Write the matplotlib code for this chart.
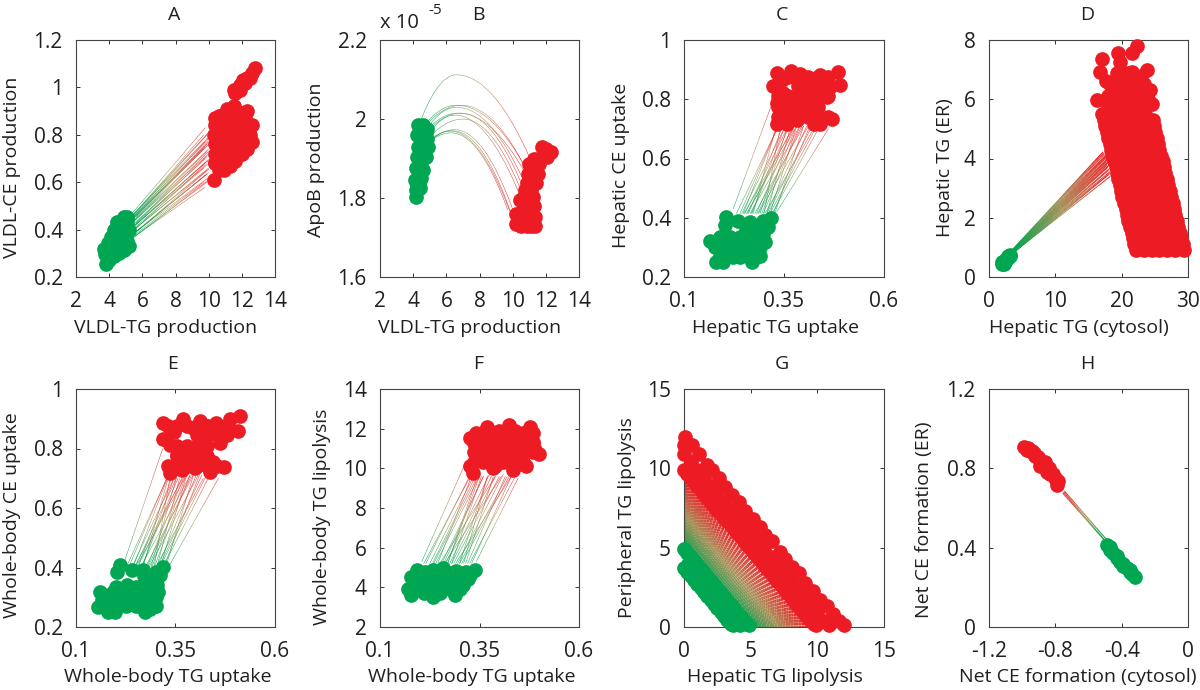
import numpy as np
import matplotlib
matplotlib.use('Agg')
import matplotlib.pyplot as plt
from matplotlib.collections import LineCollection
from matplotlib.colors import to_rgb

W, H = 1200, 690
GREEN = '#00A651'
RED = '#ED1C24'
MID = '#A8925A'
INK = '#231F20'
plt.rcParams['font.family'] = ['Open Sans', 'DejaVu Sans']

# === A: VLDL-TG vs VLDL-CE ===
a_green_x = [3.8, 3.7, 4.0, 4.3, 4.6, 4.9, 5.2, 3.9, 4.2, 4.5, 4.8, 5.1, 4.1, 4.4, 4.7, 5.0, 4.3, 4.6, 4.9, 5.2, 4.5, 4.8, 5.05, 4.9, 5.1, 3.75,
             4.0, 4.3, 4.6, 4.9, 3.9, 4.5, 4.8, 4.7, 5.1, 4.3]
a_green_y = [.255, .32, .30, .29, .30, .315, .33, .345, .34, .335, .345, .35, .37, .38, .375, .37, .40, .41, .405, .40, .43, .435, .44, .455, .455, .295,
             .27, .31, .33, .36, .32, .36, .40, .43, .42, .37]
a_red_x = [12.8, 12.3, 12.5, 11.9, 11.6, 11.5, 12.1, 10.3, 10.4, 10.6, 10.9, 11.3, 11.6, 12.0, 12.3, 12.6, 12.5, 12.6, 12.3, 11.9, 11.5, 11.1, 10.7, 10.4, 10.3, 10.6, 11.0, 11.4, 11.8, 12.2, 10.5, 10.9, 11.3, 11.7, 12.2, 10.95, 11.25, 10.8,
           10.4, 11.0, 11.4, 10.4, 11.0, 11.6, 10.4, 11.0, 11.6, 12.2, 10.4, 11.0, 11.6, 12.2, 10.4, 11.0, 11.6, 12.2, 10.6, 11.2, 11.8, 12.2, 11.9, 12.2, 12.6]
a_red_y = [1.08, 1.04, 1.04, 1.01, .975, .99, 1.03, .61, .68, .65, .65, .67, .69, .72, .74, .77, .80, .84, .90, .89, .92, .91, .88, .87, .80, .74, .72, .71, .75, .80, .78, .80, .78, .82, .85, .85, .85, .70,
           .68, .68, .70, .72, .72, .74, .76, .76, .76, .78, .80, .80, .80, .82, .84, .84, .84, .86, .88, .88, .88, .88, .99, 1.02, 1.06]
a_link_x0 = [5.4, 5.5, 5.5, 5.4, 5.5, 5.6, 5.4, 5.5, 5.5, 5.4, 5.5, 5.6, 5.5, 5.4, 5.5, 5.5, 5.4, 5.5, 5.6, 5.5, 5.4, 5.5, 5.5, 5.4, 5.5, 5.4, 5.6, 5.5, 5.4, 5.5, 5.6, 5.5, 5.4, 5.5, 5.5, 5.4]
a_link_y0 = [.365, .37, .375, .38, .385, .39, .395, .40, .405, .41, .415, .42, .425, .43, .435, .44, .445, .45, .452, .456, .46, .465, .468, .47, .368, .378, .388, .398, .408, .418, .428, .438, .448, .458, .462, .442]
a_link_x1 = [9.8, 9.9, 9.7, 10, 9.8, 10, 9.9, 10, 9.7, 10, 9.9, 10.1, 9.8, 10, 9.9, 10, 9.7, 10, 10, 9.8, 10, 9.7, 10, 9.8, 10, 9.9, 10, 9.8, 10, 9.9, 10, 9.8, 9.9, 10, 9.9, 10]
a_link_y1 = [.58, .60, .60, .62, .63, .64, .65, .66, .66, .68, .69, .70, .70, .72, .73, .74, .74, .76, .77, .77, .79, .80, .81, .83, .61, .635, .655, .675, .695, .71, .73, .75, .76, .785, .80, .775]

# === B: VLDL-TG vs ApoB (arcs have a start, a peak and an end) ===
b_green_x = [4.3, 4.6, 4.85, 4.25, 4.6, 4.85, 4.3, 4.6, 4.9, 4.25, 4.6, 4.75, 4.2, 4.5, 4.6, 4.1, 4.4, 4.5, 4.2, 4.4, 4.15,
             4.45, 4.45, 4.45, 4.7, 4.4, 4.35, 4.25, 4.6, 4.75]
b_green_y = [1.985, 1.985, 1.975, 1.96, 1.96, 1.95, 1.93, 1.93, 1.93, 1.905, 1.90, 1.905, 1.875, 1.875, 1.87, 1.845, 1.845, 1.85, 1.82, 1.825, 1.803,
             1.97, 1.94, 1.915, 1.94, 1.89, 1.86, 1.835, 1.915, 1.965]
b_red_x = [12.0, 12.3, 11.75, 11.0, 11.6, 11.5, 10.9, 11.4, 10.85, 11.25, 10.45, 10.85, 10.2, 10.2, 10.85, 11.35, 11.35, 10.75, 11.3, 11.0, 10.6, 10.6,
           11.25, 11.15, 11.1, 10.6, 10.9, 10.45, 10.5, 11.1, 11.0, 12.1, 11.5, 11.35, 10.75, 11.05, 11.3, 11.9]
b_red_y = [1.925, 1.917, 1.93, 1.887, 1.887, 1.862, 1.862, 1.837, 1.837, 1.803, 1.794, 1.80, 1.76, 1.735, 1.73, 1.73, 1.752, 1.76, 1.78, 1.78, 1.735, 1.77,
           1.875, 1.85, 1.82, 1.80, 1.76, 1.75, 1.73, 1.73, 1.755, 1.905, 1.90, 1.875, 1.82, 1.80, 1.90, 1.91]
b_link_x0 = [4.4, 4.9, 4.9, 4.9, 4.9, 4.9, 4.9, 4.9, 4.9, 4.9, 4.9, 4.9]
b_link_y0 = [1.99, 1.995, 1.99, 1.98, 1.975, 1.97, 1.96, 1.945, 1.94, 1.94, 1.95, 1.935]
b_link_xm = [6.6, 6.6, 6.9, 6.6, 6.7, 6.9, 6.5, 6.4, 6.5, 6.3, 7.0, 6.2]
b_link_ym = [2.112, 2.035, 2.035, 2.03, 2.015, 2.015, 2.01, 1.97, 1.973, 1.965, 2.0, 1.97]
b_link_x1 = [11.1, 10.8, 10.9, 10.7, 10.8, 10.7, 10.5, 10.0, 10.1, 9.7, 10.5, 10.3]
b_link_y1 = [1.895, 1.875, 1.865, 1.84, 1.86, 1.82, 1.80, 1.75, 1.76, 1.77, 1.82, 1.71]

# === C: hepatic TG vs CE uptake ===
c_green_x = [.206, .202, .235, .265, .298, .317, .31, .164, .177, .181, .198, .223, .24, .271, .281, .302, .298, .223, .256, .281, .19, .256, .281, .248, .215, .273, .198,
             .19, .215, .24, .265, .29, .19, .215, .24, .265, .29, .19, .215, .24, .265, .29, .265, .29]
c_green_y = [.403, .375, .39, .386, .39, .40, .369, .322, .30, .25, .25, .268, .268, .25, .268, .318, .346, .324, .324, .324, .296, .358, .358, .29, .29, .296, .33,
             .27, .27, .27, .27, .27, .30, .30, .30, .30, .30, .335, .335, .335, .335, .335, .37, .37]
c_red_x = [.332, .367, .323, .486, .49, .44, .415, .332, .332, .357, .382, .47, .44, .424, .457, .424, .39, .357, .398, .431, .465, .39, .345, .348, .39, .445,
           .335, .36, .385, .41, .435, .46, .335, .36, .385, .41, .435, .335, .36, .385, .41, .435, .46, .335, .385, .41, .435, .46, .36, .385, .41, .435, .46]
c_red_y = [.887, .896, .845, .893, .848, .882, .87, .786, .718, .718, .73, .735, .718, .718, .808, .797, .808, .786, .763, .752, .842, .853, .865, .82, .885, .84,
           .74, .74, .74, .74, .74, .74, .775, .775, .775, .775, .775, .81, .81, .81, .81, .81, .81, .845, .845, .845, .845, .845, .875, .875, .875, .875, .875]
c_link_x0 = [.223, .24, .248, .261, .273, .281, .29, .298, .307, .315, .323, .332, .265, .256, .315, .327, .277, .302, .286, .252, .231, .307, .244, .258, .27, .284, .294, .31, .32, .268, .3, .25]
c_link_y0 = [.43, .414, .414, .414, .414, .414, .414, .414, .414, .414, .414, .42, .414, .414, .414, .414, .414, .414, .414, .414, .414, .414, .414, .414, .414, .414, .414, .414, .414, .414, .414, .414]
c_link_x1 = [.32, .332, .332, .344, .332, .373, .357, .39, .407, .382, .415, .461, .39, .382, .432, .399, .399, .424, .411, .357, .336, .365, .35, .37, .35, .395, .378, .42, .44, .36, .34, .372]
c_link_y1 = [.785, .70, .70, .70, .72, .70, .70, .71, .71, .71, .71, .70, .71, .71, .71, .71, .71, .70, .71, .70, .71, .70, .70, .70, .70, .71, .70, .71, .71, .70, .70, .70]

# === D: hepatic TG cytosol vs ER ===
d_green_x = [1.9, 2.2, 2.4, 2.2, 2.6, 2.9, 3.1, 3.2, 2.8, 2.0]
d_green_y = [.45, .45, .5, .55, .6, .65, .7, .75, .72, .5]
d_red_x = [22.1, 23.3, 24.5, 25.7, 26.9, 28.1, 29.4,
           21.7, 23.0, 24.4, 25.8, 27.2, 29.0,
           21.2, 22.6, 24.0, 25.4, 26.9, 28.5,
           20.8, 22.2, 23.6, 25.0, 26.5, 28.1,
           20.4, 21.8, 23.2, 24.6, 26.1, 27.7,
           19.9, 21.3, 22.7, 24.1, 25.7, 27.3,
           19.5, 20.9, 22.3, 23.7, 25.3, 26.8,
           19.1, 20.5, 21.9, 23.3, 24.9, 26.4,
           18.6, 20.0, 21.4, 22.8, 24.4, 26.0,
           18.2, 19.6, 21.0, 22.4, 24.0, 25.5,
           17.8, 19.2, 20.6, 22.0, 23.6, 25.1,
           17.3, 18.7, 20.1, 21.5, 23.1, 24.7,
           21.9, 21.5, 21.0, 20.6, 20.1, 19.7, 19.3, 18.8, 18.4, 18.0, 17.5, 17.0,
           29.2, 28.8, 28.3, 27.9, 27.5, 27.0, 26.6, 26.2, 25.7, 25.3, 24.9,
           17.0, 16.8, 16.3, 18.3, 19.5, 19.8, 22.3, 21.5, 23.8, 21.5, 24.3, 24.5, 23.0, 22.0, 20.5, 19.0, 18.0,
           # second offset lattice, closes the holes in the band
           22.6, 24.0, 25.2, 26.4, 27.8, 22.3, 23.7, 25.0, 26.2, 27.6, 21.9, 23.3, 24.7, 26.0, 27.3, 21.5, 22.9, 24.3, 25.7, 26.9,
           21.0, 22.4, 23.8, 25.2, 26.5, 20.6, 22.0, 23.4, 24.8, 26.1, 20.2, 21.6, 23.0, 24.4, 25.7, 19.7, 21.1, 22.5, 23.9, 25.3,
           19.3, 20.7, 22.1, 23.5, 24.8, 18.9, 20.3, 21.7, 23.1, 24.4,
           18.5, 19.9, 21.3, 22.7, 24.0, 18.0, 19.4, 20.8, 22.2, 23.5,
           18.5, 19.5, 20.5, 21.5, 22.5, 23.5, 18.0, 19.0, 20.0, 21.0, 22.0, 23.0, 24.0, 18.8, 20.2, 21.2, 22.6, 23.4, 17.6, 19.3, 21.0, 22.9]
d_red_y = [.9, .9, .9, .9, .9, .9, .9,
           1.3, 1.3, 1.3, 1.3, 1.3, 1.3,
           1.7, 1.7, 1.7, 1.7, 1.7, 1.7,
           2.1, 2.1, 2.1, 2.1, 2.1, 2.1,
           2.5, 2.5, 2.5, 2.5, 2.5, 2.5,
           2.9, 2.9, 2.9, 2.9, 2.9, 2.9,
           3.3, 3.3, 3.3, 3.3, 3.3, 3.3,
           3.7, 3.7, 3.7, 3.7, 3.7, 3.7,
           4.1, 4.1, 4.1, 4.1, 4.1, 4.1,
           4.5, 4.5, 4.5, 4.5, 4.5, 4.5,
           4.9, 4.9, 4.9, 4.9, 4.9, 4.9,
           5.3, 5.3, 5.3, 5.3, 5.3, 5.3,
           1.1, 1.5, 1.9, 2.3, 2.7, 3.1, 3.5, 3.9, 4.3, 4.7, 5.1, 5.5,
           1.1, 1.5, 1.9, 2.3, 2.7, 3.1, 3.5, 3.9, 4.3, 4.7, 5.1,
           7.35, 6.93, 5.97, 6.53, 7.57, 7.26, 7.8, 7.55, 7.0, 6.93, 6.3, 5.85, 6.3, 6.2, 6.4, 6.0, 5.7,
           1.1, 1.1, 1.1, 1.1, 1.1, 1.5, 1.5, 1.5, 1.5, 1.5, 1.9, 1.9, 1.9, 1.9, 1.9, 2.3, 2.3, 2.3, 2.3, 2.3,
           2.7, 2.7, 2.7, 2.7, 2.7, 3.1, 3.1, 3.1, 3.1, 3.1, 3.5, 3.5, 3.5, 3.5, 3.5, 3.9, 3.9, 3.9, 3.9, 3.9,
           4.3, 4.3, 4.3, 4.3, 4.3, 4.7, 4.7, 4.7, 4.7, 4.7,
           5.1, 5.1, 5.1, 5.1, 5.1, 5.5, 5.5, 5.5, 5.5, 5.5,
           5.7, 5.7, 5.7, 5.7, 5.7, 5.7, 6.1, 6.1, 6.1, 6.1, 6.1, 6.1, 6.0, 6.5, 6.5, 6.5, 6.5, 6.5, 6.6, 6.9, 6.9, 6.8]
d_link_x0 = [3.2, 3.3, 3.2, 3.4, 3.3, 3.2, 3.3, 3.4, 3.3, 3.2, 3.4, 3.3, 3.3, 3.2, 3.3, 3.2, 3.4, 3.3, 3.2, 3.3, 3.4, 3.3, 3.2, 3.3]
d_link_y0 = [.74, .75, .76, .77, .78, .79, .78, .80, .80, .81, .82, .82, .83, .84, .75, .77, .79, .80, .80, .81, .82, .83, .84, .85]
d_link_x1 = [18.3, 18.0, 18.2, 18.0, 17.9, 18.1, 17.8, 18.0, 17.7, 17.9, 17.6, 17.7, 17.4, 17.2, 18.2, 18.1, 18.0, 17.9, 17.8, 17.8, 17.6, 17.5, 17.3, 17.1]
d_link_y1 = [3.4, 3.45, 3.55, 3.6, 3.7, 3.78, 3.78, 3.9, 3.9, 4.0, 4.0, 4.1, 4.15, 4.22, 3.5, 3.65, 3.75, 3.85, 3.85, 3.95, 4.05, 4.1, 4.18, 4.2]

# === E: whole-body TG vs CE uptake ===
e_green_x = [.211, .202, .24, .269, .319, .311, .16, .156, .181, .198, .177, .219, .24, .273, .286, .307, .303, .227, .261, .286, .211, .252, .286, .194, .30, .165,
             .175, .2, .225, .25, .275, .30, .175, .2, .225, .25, .275, .30, .2, .225, .25, .275, .30, .27, .30]
e_green_y = [.408, .385, .391, .391, .402, .374, .318, .267, .25, .25, .30, .284, .279, .25, .262, .318, .34, .34, .335, .34, .307, .312, .30, .318, .385, .29,
             .27, .27, .27, .27, .27, .27, .30, .30, .30, .30, .30, .30, .335, .335, .335, .335, .335, .37, .37]
e_red_x = [.319, .37, .318, .512, .487, .508, .453, .428, .336, .366, .399, .437, .472, .445, .336, .378, .412, .462, .42, .487, .395, .345, .353, .412, .39, .45,
           .33, .355, .38, .405, .43, .455, .355, .38, .405, .43, .355, .38, .405, .43, .405, .43, .48, .33, .355, .38, .405, .43, .455, .48]
e_red_y = [.885, .90, .833, .908, .90, .86, .885, .874, .717, .728, .734, .722, .739, .756, .812, .79, .756, .818, .812, .863, .869, .857, .779, .891, .79, .85,
           .74, .74, .74, .74, .74, .74, .775, .775, .775, .775, .81, .81, .81, .81, .845, .845, .845, .875, .875, .875, .875, .875, .875, .875]
e_link_x0 = [.219, .232, .243, .255, .268, .278, .288, .296, .305, .312, .32, .336, .262, .25, .31, .325, .274, .3, .283, .248, .226, .303, .24, .254, .266, .28, .29, .308, .318, .264, .296, .246]
e_link_y0 = [.41, .40, .40, .40, .40, .40, .40, .40, .40, .40, .40, .41, .40, .40, .40, .40, .40, .40, .40, .40, .40, .40, .40, .40, .40, .40, .40, .40, .40, .40, .40, .40]
e_link_x1 = [.318, .328, .33, .34, .336, .37, .352, .386, .402, .378, .41, .458, .387, .377, .428, .395, .394, .42, .407, .352, .332, .36, .346, .366, .346, .39, .374, .416, .436, .356, .336, .368]
e_link_y1 = [.80, .70, .70, .70, .72, .70, .70, .71, .71, .71, .71, .70, .71, .71, .71, .71, .71, .70, .71, .70, .71, .70, .70, .70, .70, .71, .70, .71, .71, .70, .70, .70]

# === F: whole-body TG uptake vs lipolysis ===
f_green_x = [.192, .179, .171, .179, .234, .288, .338, .317, .259, .234, .213, .309, .265, .225, .19, .30, .285, .25, .21, .29, .325, .26, .205, .235,
             .2, .225, .25, .275, .3, .2, .225, .25, .275, .3, .32, .2, .225, .25, .275, .3]
f_green_y = [4.87, 4.53, 3.94, 3.6, 3.52, 3.6, 4.87, 4.78, 4.95, 4.85, 4.78, 4.1, 4.1, 4.1, 4.1, 4.5, 3.75, 3.7, 3.7, 4.8, 4.6, 4.5, 4.4, 4.5,
             3.9, 3.9, 3.9, 3.9, 3.9, 4.3, 4.3, 4.3, 4.3, 4.3, 4.4, 4.7, 4.7, 4.7, 4.7, 4.7]
f_red_x = [.326, .368, .424, .476, .485, .5, .468, .434, .384, .334, .326, .342, .37, .40, .44, .47, .34, .37, .40, .43, .46, .35, .38, .41, .445, .39, .345, .49, .45, .425,
           .335, .36, .385, .41, .435, .46, .335, .36, .385, .41, .435, .46, .485, .335, .36, .385, .41, .435, .46, .485, .36, .385, .41, .435, .46, .485]
f_red_y = [11.52, 12.1, 12.2, 12.06, 11.35, 10.7, 10.1, 9.9, 10, 9.75, 10.1, 11.8, 11.5, 11.9, 11.9, 11.6, 11.0, 11.1, 11.4, 11.3, 11.0, 10.4, 10.5, 10.8, 10.6, 10.1, 11.4, 10.9, 10.2, 10.3,
           10.3, 10.3, 10.3, 10.3, 10.3, 10.3, 10.8, 10.8, 10.8, 10.8, 10.8, 10.8, 10.8, 11.3, 11.3, 11.3, 11.3, 11.3, 11.3, 11.3, 11.8, 11.8, 11.8, 11.8, 11.8, 11.8]
f_link_x0 = [.205, .215, .225, .235, .245, .255, .265, .275, .285, .295, .305, .315, .325, .342, .25, .27, .29, .31, .232, .262, .28, .30, .21, .24, .26, .28, .3, .32, .33, .27]
f_link_y0 = [5.3, 5.2, 5.2, 5.2, 5.2, 5.2, 5.2, 5.2, 5.2, 5.2, 5.2, 5.2, 5.2, 5.3, 5.2, 5.2, 5.2, 5.2, 5.2, 5.2, 5.2, 5.2, 5.2, 5.2, 5.2, 5.2, 5.2, 5.2, 5.2, 5.2]
f_link_x1 = [.313, .325, .335, .345, .33, .36, .375, .38, .40, .41, .425, .385, .44, .447, .39, .35, .43, .37, .34, .405, .355, .42, .33, .35, .36, .39, .37, .415, .43, .345]
f_link_y1 = [10.2, 9.6, 9.6, 9.6, 9.6, 9.6, 9.7, 9.6, 9.6, 9.7, 9.6, 9.6, 9.6, 9.5, 9.6, 9.6, 9.6, 9.6, 9.6, 9.6, 9.6, 9.6, 9.7, 9.6, 9.6, 9.6, 9.6, 9.6, 9.6, 9.6]

# === G: hepatic vs peripheral TG lipolysis ===
g_green_x = [0, .25, .5, .75, 1.0, 1.25, 1.5, 1.75, 2.0, 2.25, 2.5, 2.75, 3.0, 3.25, 3.5, 3.7,
             0, .25, .5, .75, 1.0, 1.25, 1.5, 1.75, 2.0, 2.25, 2.5, 2.75, 3.0, 3.25, 3.5, 3.75, 4.0, 4.25, 4.5, 4.7, 4.9,
             .3, .8, 1.3, 1.8, 2.3, 2.8, 3.3, 3.8, 4.2]
g_green_y = [3.7, 3.45, 3.2, 2.95, 2.7, 2.45, 2.2, 1.95, 1.7, 1.45, 1.2, .95, .7, .45, .2, .1,
             4.9, 4.65, 4.4, 4.15, 3.9, 3.65, 3.4, 3.15, 2.9, 2.65, 2.4, 2.15, 1.9, 1.65, 1.4, 1.15, .9, .65, .4, .2, .1,
             4.0, 3.5, 3.0, 2.5, 2.0, 1.5, 1.0, .5, .1]
g_red_x = [0, .25, .5, .75, 1, 1.25, 1.5, 1.75, 2, 2.25, 2.5, 2.75, 3, 3.25, 3.5, 3.75, 4, 4.25, 4.5, 4.75, 5, 5.25, 5.5, 5.75, 6, 6.25, 6.5, 6.75, 7, 7.25, 7.5, 7.75, 8, 8.25, 8.5, 8.75, 9, 9.25, 9.5, 9.75, 9.9,
           0, .5, 1, 1.5, 2, 2.5, 3, 3.5, 4, 4.5, 5, 5.5, 6, 6.5, 7, 7.5, 8, 8.5, 9, 9.5, 10, 10.5, 10.9,
           0, .1, .6, 1.1, 1.7, 2.1, 2.6, 3.1, 3.6, 4.1, 4.6, 5.2, 5.7, 6.1, 6.6, 7.2, 7.6, 8.1, 8.6, 9.1, 9.7, 10.2, 10.7, 11.2, 11.6, 12.0]
g_red_y = [9.9, 9.65, 9.4, 9.15, 8.9, 8.65, 8.4, 8.15, 7.9, 7.65, 7.4, 7.15, 6.9, 6.65, 6.4, 6.15, 5.9, 5.65, 5.4, 5.15, 4.9, 4.65, 4.4, 4.15, 3.9, 3.65, 3.4, 3.15, 2.9, 2.65, 2.4, 2.15, 1.9, 1.65, 1.4, 1.15, .9, .65, .4, .2, .1,
           10.9, 10.4, 9.9, 9.4, 8.9, 8.4, 7.9, 7.4, 6.9, 6.4, 5.9, 5.4, 4.9, 4.4, 3.9, 3.4, 2.9, 2.4, 1.9, 1.4, .9, .4, .1,
           11.5, 12.0, 11.5, 10.9, 10.2, 9.9, 9.4, 8.8, 8.3, 7.9, 7.3, 6.8, 6.3, 5.8, 5.4, 4.7, 4.3, 3.8, 3.4, 2.8, 2.3, 1.7, 1.3, .8, .4, .1]
g_link_x0 = [0, .1, .2, .3, .4, .5, .6, .7, .8, .9, 1, 1.1, 1.2, 1.3, 1.4, 1.5, 1.6, 1.7, 1.8, 1.9, 2, 2.1, 2.2, 2.3, 2.4, 2.5, 2.6, 2.7, 2.8, 2.9, 3, 3.1, 3.2, 3.3, 3.4, 3.5, 3.6, 3.7, 3.8, 3.9, 4, 4.1, 4.2, 4.3, 4.4, 4.5, 4.6, 4.7]
g_link_y0 = [4.7, 4.6, 4.5, 4.4, 4.3, 4.2, 4.1, 4, 3.9, 3.8, 3.7, 3.6, 3.5, 3.4, 3.3, 3.2, 3.1, 3, 2.9, 2.8, 2.7, 2.6, 2.5, 2.4, 2.3, 2.2, 2.1, 2, 1.9, 1.8, 1.7, 1.6, 1.5, 1.4, 1.3, 1.2, 1.1, 1, .9, .8, .7, .6, .5, .4, .3, .2, .1, 0]
g_link_x1 = [0, .2, .4, .6, .8, 1, 1.2, 1.4, 1.6, 1.8, 2, 2.2, 2.4, 2.6, 2.8, 3, 3.2, 3.4, 3.6, 3.8, 4, 4.2, 4.4, 4.6, 4.8, 5, 5.2, 5.4, 5.6, 5.8, 6, 6.2, 6.4, 6.6, 6.8, 7, 7.2, 7.4, 7.6, 7.8, 8, 8.2, 8.4, 8.6, 8.8, 9, 9.2, 9.4]
g_link_y1 = [9.4, 9.2, 9, 8.8, 8.6, 8.4, 8.2, 8, 7.8, 7.6, 7.4, 7.2, 7, 6.8, 6.6, 6.4, 6.2, 6, 5.8, 5.6, 5.4, 5.2, 5, 4.8, 4.6, 4.4, 4.2, 4, 3.8, 3.6, 3.4, 3.2, 3, 2.8, 2.6, 2.4, 2.2, 2, 1.8, 1.6, 1.4, 1.2, 1, .8, .6, .4, .2, 0]

# === H: net CE formation ===
h_green_x = [-.486, -.47, -.45, -.43, -.41, -.39, -.37, -.35, -.335, -.319, -.47, -.43, -.39, -.35]
h_green_y = [.413, .39, .371, .35, .329, .31, .295, .275, .265, .253, .405, .36, .32, .285]
h_red_x = [-.987, -.965, -.955, -.941, -.92, -.905, -.891, -.875, -.862, -.841, -.85, -.831, -.815, -.80, -.791, -.785, -.97, -.93, -.89]
h_red_y = [.91, .905, .885, .885, .86, .855, .835, .82, .83, .80, .78, .77, .77, .75, .717, .735, .89, .875, .81]
h_link_x0 = [-.49, -.495, -.485]
h_link_y0 = [.425, .43, .435]
h_link_x1 = [-.755, -.75, -.745]
h_link_y1 = [.675, .68, .685]

# === Panel layout, all in reference pixels ===
# (left, right, top, bottom)
boxes = {'A': (76, 275, 40, 277), 'B': (380, 579, 40, 277), 'C': (684, 884, 40, 277), 'D': (989, 1188, 40, 277),
         'E': (76, 275, 389, 627), 'F': (380, 579, 389, 627), 'G': (684, 884, 389, 627), 'H': (989, 1188, 389, 627)}
title_px = {'A': (174, 15), 'B': (478, 15), 'C': (782, 15), 'D': (1087, 15),
            'E': (173, 364), 'F': (478, 364), 'G': (782, 364), 'H': (1087, 364)}
xlabel_px = {'A': (166, 328), 'B': (470, 328), 'C': (776, 328), 'D': (1079, 328),
             'E': (168, 677), 'F': (472, 677), 'G': (775, 677), 'H': (1078, 677)}
ylabel_px = {'A': (12, 167), 'B': (316, 160), 'C': (621, 165), 'D': (945, 168),
             'E': (12, 515), 'F': (322, 517), 'G': (627, 518), 'H': (924, 520)}


def draw_links(ax, x0, y0, x1, y1, lw, xm=None, ym=None):
    """Thin lines going from green at the start to red at the end"""
    g, m, r = np.array(to_rgb(GREEN)), np.array(to_rgb(MID)), np.array(to_rgb(RED))
    t = np.linspace(0, 1, 24)
    for i in range(len(x0)):
        xs = x0[i] + t * (x1[i] - x0[i])
        if xm is None:
            ys = y0[i] + t * (y1[i] - y0[i])
        else:
            # two half parabolas that meet at the peak
            a0 = (ym[i] - y0[i]) / (xm[i] - x0[i]) ** 2
            a1 = (ym[i] - y1[i]) / (xm[i] - x1[i]) ** 2
            ys = ym[i] - np.where(xs < xm[i], a0, a1) * (xs - xm[i]) ** 2
        pts = np.column_stack([xs, ys])
        segs = np.stack([pts[:-1], pts[1:]], axis=1)
        cols = [g + (m - g) * v * 2 if v < 0.5 else m + (r - m) * (v - 0.5) * 2 for v in t[:-1]]
        ax.add_collection(LineCollection(segs, colors=cols, linewidths=lw, zorder=1, capstyle='butt'))


def panel(name, xlabel, ylabel, xlim, ylim, xticks, yticks, xticklabels, yticklabels,
          green, red, links, link_lw=0.35, arc=None):
    left, right, top, bottom = boxes[name]
    ax = fig.add_axes([left / W, 1 - bottom / H, (right - left) / W, (bottom - top) / H])
    draw_links(ax, *links, link_lw, *(arc or (None, None)))
    ax.scatter(green[0], green[1], s=112, c=GREEN, linewidths=0, clip_on=False, zorder=3)
    ax.scatter(red[0], red[1], s=112, c=RED, linewidths=0, clip_on=False, zorder=4)
    ax.set_xlim(xlim)
    ax.set_ylim(ylim)
    ax.set_xticks(xticks, xticklabels)
    ax.set_yticks(yticks, yticklabels)
    ax.tick_params(direction='in', top=True, right=True, length=3, width=0.7, color='#333333',
                   labelsize=15, labelcolor=INK)
    ax.tick_params(axis='x', pad=10)
    ax.tick_params(axis='y', pad=9.5)
    for s in ax.spines.values():
        s.set_linewidth(0.8)
        s.set_color('#444444')
        s.set_zorder(2)
    fig.text(title_px[name][0] / W, 1 - title_px[name][1] / H, name, fontsize=14, color=INK, ha='center', va='center')
    fig.text(xlabel_px[name][0] / W, 1 - xlabel_px[name][1] / H, xlabel, fontsize=14, color=INK, ha='center', va='center')
    fig.text(ylabel_px[name][0] / W, 1 - ylabel_px[name][1] / H, ylabel, fontsize=14, color=INK, ha='center', va='center', rotation=90)
    return ax


fig = plt.figure(figsize=(W / 100, H / 100), dpi=100)

panel('A', 'VLDL-TG production', 'VLDL-CE production', (2, 14), (.2, 1.2), range(2, 15, 2), [.2, .4, .6, .8, 1, 1.2],
      ['2', '4', '6', '8', '10', '12', '14'], ['0.2', '0.4', '0.6', '0.8', '1', '1.2'],
      (a_green_x, a_green_y), (a_red_x, a_red_y), (a_link_x0, a_link_y0, a_link_x1, a_link_y1))
panel('B', 'VLDL-TG production', 'ApoB production', (2, 14), (1.6, 2.2), range(2, 15, 2), [1.6, 1.8, 2, 2.2],
      ['2', '4', '6', '8', '10', '12', '14'], ['1.6', '1.8', '2', '2.2'],
      (b_green_x, b_green_y), (b_red_x, b_red_y), (b_link_x0, b_link_y0, b_link_x1, b_link_y1),
      arc=(b_link_xm, b_link_ym))
fig.text(380 / W, 1 - 23 / H, 'x 10', fontsize=14.5, color=INK, ha='left', va='center')
fig.text(428 / W, 1 - 10 / H, '-5', fontsize=11, color=INK, ha='left', va='center')
panel('C', 'Hepatic TG uptake', 'Hepatic CE uptake', (.1, .6), (.2, 1), [.1, .35, .6], [.2, .4, .6, .8, 1],
      ['0.1', '0.35', '0.6'], ['0.2', '0.4', '0.6', '0.8', '1'],
      (c_green_x, c_green_y), (c_red_x, c_red_y), (c_link_x0, c_link_y0, c_link_x1, c_link_y1))
panel('D', 'Hepatic TG (cytosol)', 'Hepatic TG (ER)', (0, 30), (0, 8), [0, 10, 20, 30], [0, 2, 4, 6, 8],
      ['0', '10', '20', '30'], ['0', '2', '4', '6', '8'],
      (d_green_x, d_green_y), (d_red_x, d_red_y), (d_link_x0, d_link_y0, d_link_x1, d_link_y1), link_lw=0.7)
panel('E', 'Whole-body TG uptake', 'Whole-body CE uptake', (.1, .6), (.2, 1), [.1, .35, .6], [.2, .4, .6, .8, 1],
      ['0.1', '0.35', '0.6'], ['0.2', '0.4', '0.6', '0.8', '1'],
      (e_green_x, e_green_y), (e_red_x, e_red_y), (e_link_x0, e_link_y0, e_link_x1, e_link_y1))
panel('F', 'Whole-body TG uptake', 'Whole-body TG lipolysis', (.1, .6), (2, 14), [.1, .35, .6], range(2, 15, 2),
      ['0.1', '0.35', '0.6'], ['2', '4', '6', '8', '10', '12', '14'],
      (f_green_x, f_green_y), (f_red_x, f_red_y), (f_link_x0, f_link_y0, f_link_x1, f_link_y1))
panel('G', 'Hepatic TG lipolysis', 'Peripheral TG lipolysis', (0, 15), (0, 15), [0, 5, 10, 15], [0, 5, 10, 15],
      ['0', '5', '10', '15'], ['0', '5', '10', '15'],
      (g_green_x, g_green_y), (g_red_x, g_red_y), (g_link_x0, g_link_y0, g_link_x1, g_link_y1), link_lw=2.2)
panel('H', 'Net CE formation (cytosol)', 'Net CE formation (ER)', (-1.2, 0), (0, 1.2), [-1.2, -.8, -.4, 0], [0, .4, .8, 1.2],
      ['-1.2', '-0.8', '-0.4', '0'], ['0', '0.4', '0.8', '1.2'],
      (h_green_x, h_green_y), (h_red_x, h_red_y), (h_link_x0, h_link_y0, h_link_x1, h_link_y1), link_lw=0.8)

fig.savefig('out.png', dpi=100)
plt.close(fig)
